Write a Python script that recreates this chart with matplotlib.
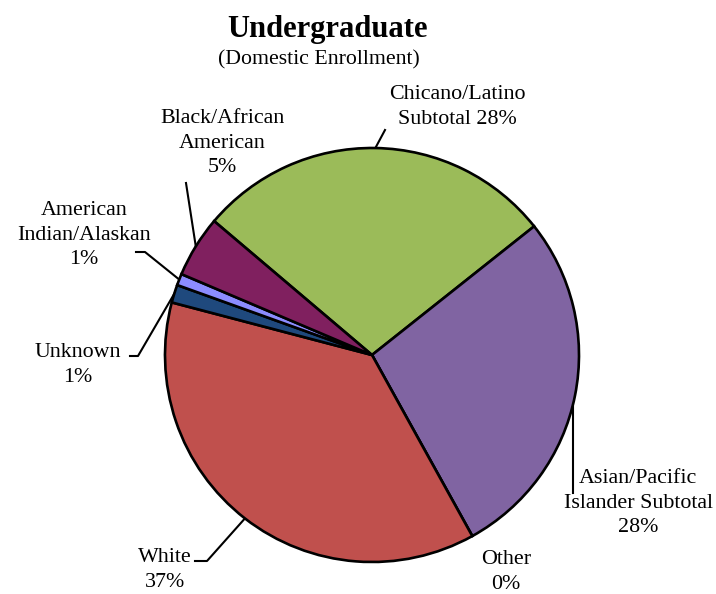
import numpy as np
import matplotlib.pyplot as plt

# slices in clockwise order, starting at the upper-left edge of the green slice
groups = ["Chicano/Latino\nSubtotal 28%", "Asian/Pacific\nIslander Subtotal\n28%", "Other\n0%",
          "White\n37%", "Unknown\n1%", "American\nIndian/Alaskan\n1%", "Black/African\nAmerican\n5%"]
shares = [28.1, 27.6, 0.0, 37.1, 1.4, 0.9, 4.8]
colors = ["#9BBB59", "#8064A2", "#4BACC6", "#C0504D", "#1F497D", "#8C8CFF", "#80205F"]

plt.rcParams["font.family"] = ["Liberation Serif", "DejaVu Serif"]

W, H = 716, 594
fig = plt.figure(figsize=(W / 100, H / 100), dpi=100)
ax = fig.add_axes([0, 0, 1, 1])

cx, cy, r = 372, H - 355, 207
wedges, _ = ax.pie(shares, colors=colors, startangle=139.7, counterclock=False,
                   center=(cx, cy), radius=r,
                   wedgeprops=dict(edgecolor="black", linewidth=1.9))
ax.set_xlim(0, W)
ax.set_ylim(0, H)
ax.axis("off")


def anchor(w):
    a = np.deg2rad((w.theta1 + w.theta2) / 2)
    return cx + r * np.cos(a), cy + r * np.sin(a)


# label placement (pixel coords from top) and leader line bends
label_pos = [(457, 107), (638, 503), (506, 572), (165, 570), (78, 365), (84, 235), (222, 143)]
leaders = [
    [(385, 130)],
    [(573, 493)],
    None,
    [(207, 561), (195, 561)],
    [(138, 356), (130, 356)],
    [(145, 252), (136, 252)],
    [(186, 183)],
]

for w, txt, (lx, ly), ld in zip(wedges, groups, label_pos, leaders):
    ax.text(lx, H - ly, txt, ha="center", va="center", fontsize=15.8, linespacing=1.37)
    if ld is None:
        continue
    ax0, ay0 = anchor(w)
    if ld[0][0] == 573:
        ax0 = 573
    xs = [ax0] + [p[0] for p in ld]
    ys = [ay0] + [H - p[1] for p in ld]
    ax.plot(xs, ys, color="black", lw=1.5, zorder=0)

ax.text(328, H - 30, "Undergraduate", ha="center", va="center", fontsize=22, fontweight="bold")
ax.text(319, H - 60, "(Domestic Enrollment)", ha="center", va="center", fontsize=15.7)

fig.savefig("out.png", dpi=100)
